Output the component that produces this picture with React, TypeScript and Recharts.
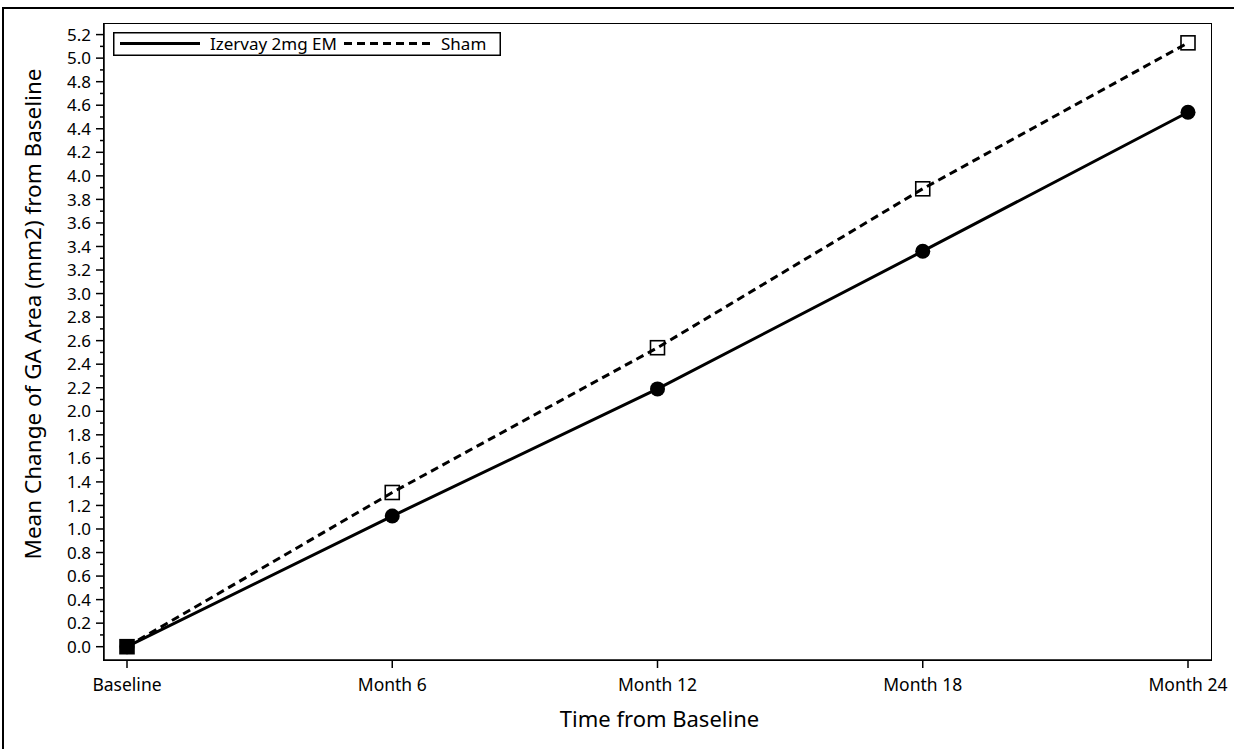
import React from 'react';
import { LineChart, Line, XAxis, YAxis, Legend } from 'recharts';

const categories = ['Baseline', 'Month 6', 'Month 12', 'Month 18', 'Month 24'];
const izervayValues = [0, 1.11, 2.19, 3.36, 4.54];
const shamValues = [0, 1.31, 2.54, 3.89, 5.13];
const yTicks = [
  0, 0.1, 0.2, 0.3, 0.4, 0.5, 0.6, 0.7, 0.8, 0.9, 1.0, 1.1, 1.2, 1.3, 1.4, 1.5, 1.6, 1.7, 1.8, 1.9,
  2.0, 2.1, 2.2, 2.3, 2.4, 2.5, 2.6, 2.7, 2.8, 2.9, 3.0, 3.1, 3.2, 3.3, 3.4, 3.5, 3.6, 3.7, 3.8, 3.9,
  4.0, 4.1, 4.2, 4.3, 4.4, 4.5, 4.6, 4.7, 4.8, 4.9, 5.0, 5.1, 5.2,
];
const yDomain = [-0.113, 5.29];
const seriesNames = ['Izervay 2mg EM', 'Sham'];

const data = categories.map((c, i) => ({ name: c, izervay: izervayValues[i], sham: shamValues[i] }));

const FONT = '"Noto Sans", sans-serif';

const YTick = (props: any) => {
  const { x, y, payload } = props;
  const v = payload.value;
  const major = Math.round(v * 10) % 2 === 0;
  return (
    <g>
      <line x1={x - (major ? 8 : 4)} x2={x} y1={y} y2={y} stroke="#000" strokeWidth={1.5} />
      {major && (
        <text x={x - 13} y={y} dy="0.36em" textAnchor="end" fontFamily={FONT} fontSize={17} fill="#000">
          {v.toFixed(1)}
        </text>
      )}
    </g>
  );
};

const XTick = (props: any) => {
  const { x, y, payload } = props;
  return (
    <g>
      <line x1={x} x2={x} y1={y} y2={y + 8} stroke="#000" strokeWidth={1.5} />
      <text x={x} y={y + 31} textAnchor="middle" fontFamily={FONT} fontSize={17.5} fill="#000">
        {payload.value}
      </text>
    </g>
  );
};

const CircleDot = (props: any) => {
  const { cx, cy } = props;
  if (cx == null || cy == null) return null;
  return <circle cx={cx} cy={cy} r={7.5} fill="#000" stroke="none" />;
};

const SquareDot = (props: any) => {
  const { cx, cy, index } = props;
  if (cx == null || cy == null) return null;
  const s = 7;
  return (
    <rect
      x={cx - s}
      y={cy - s}
      width={s * 2}
      height={s * 2}
      fill={index === 0 ? '#000' : 'none'}
      stroke="#000"
      strokeWidth={1.6}
    />
  );
};

const LegendBox = () => (
  <svg width={388} height={24} style={{ display: 'block' }}>
    <rect x={0.75} y={0.75} width={386.5} height={22.5} fill="#fff" stroke="#000" strokeWidth={1.5} />
    <line x1={7} x2={87} y1={11.5} y2={11.5} stroke="#000" strokeWidth={3} />
    <text x={97} y={17.5} fontFamily={FONT} fontSize={17} fill="#000">{seriesNames[0]}</text>
    <line x1={231} x2={319} y1={11.5} y2={11.5} stroke="#000" strokeWidth={3} strokeDasharray="8 5" />
    <text x={328} y={17.5} fontFamily={FONT} fontSize={17} fill="#000">{seriesNames[1]}</text>
  </svg>
);

const YTitle = (props: any) => {
  const { viewBox } = props;
  const cx = viewBox.x - 11;
  const cy = viewBox.y + viewBox.height / 2 - 28;
  return (
    <text
      x={cx}
      y={cy}
      transform={`rotate(-90, ${cx}, ${cy})`}
      textAnchor="middle"
      dy="0.36em"
      fontFamily={FONT}
      fontSize={22.5}
      fill="#000"
    >
      Mean Change of GA Area (mm2) from Baseline
    </text>
  );
};

const XTitle = (props: any) => {
  const { viewBox } = props;
  return (
    <text
      x={viewBox.x + viewBox.width / 2 + 2}
      y={viewBox.y + 67}
      textAnchor="middle"
      fontFamily={FONT}
      fontSize={22}
      fill="#000"
    >
      Time from Baseline
    </text>
  );
};

export default function App() {
  return (
    <div
      style={{
        position: 'fixed',
        left: 0,
        top: 0,
        width: 1234,
        height: 749,
        overflow: 'hidden',
        background: '#fff',
      }}
    >
      <div
        style={{
          position: 'absolute',
          left: 2,
          top: 7,
          width: 1250,
          height: 780,
          border: '2px solid #000',
          boxSizing: 'border-box',
        }}
      />
      <div style={{ position: 'absolute', left: 0, top: 0 }}>
        <LineChart width={1234} height={749} data={data} margin={{ top: 24, right: 23, bottom: 39, left: 44 }}>
          <XAxis
            dataKey="name"
            type="category"
            padding={{ left: 23, right: 23 }}
            height={50}
            tickSize={0}
            tickMargin={0}
            tick={<XTick />}
            axisLine={{ stroke: '#000', strokeWidth: 1.5 }}
            interval={0}
            label={<XTitle />}
          />
          <YAxis
            type="number"
            domain={yDomain}
            ticks={yTicks}
            allowDataOverflow
            width={60}
            tickSize={0}
            tickMargin={0}
            tick={<YTick />}
            interval={0}
            axisLine={{ stroke: '#000', strokeWidth: 1.5 }}
            label={<YTitle />}
          />
          <Legend
            layout="horizontal"
            verticalAlign="middle"
            align="center"
            content={<LegendBox />}
            wrapperStyle={{ position: 'absolute', left: 113, top: 32, width: 388, height: 24 }}
          />
          <Line
            dataKey="izervay"
            name={seriesNames[0]}
            stroke="#000"
            strokeWidth={3}
            dot={<CircleDot />}
            activeDot={false}
            isAnimationActive={false}
          />
          <Line
            dataKey="sham"
            name={seriesNames[1]}
            stroke="#000"
            strokeWidth={3}
            strokeDasharray="8 5"
            dot={<SquareDot />}
            activeDot={false}
            isAnimationActive={false}
          />
        </LineChart>
      </div>
      <div
        style={{
          position: 'absolute',
          left: 103.25,
          top: 23.25,
          width: 1108.5,
          height: 637.5,
          border: '1.5px solid #000',
          boxSizing: 'border-box',
          pointerEvents: 'none',
        }}
      />
    </div>
  );
}
